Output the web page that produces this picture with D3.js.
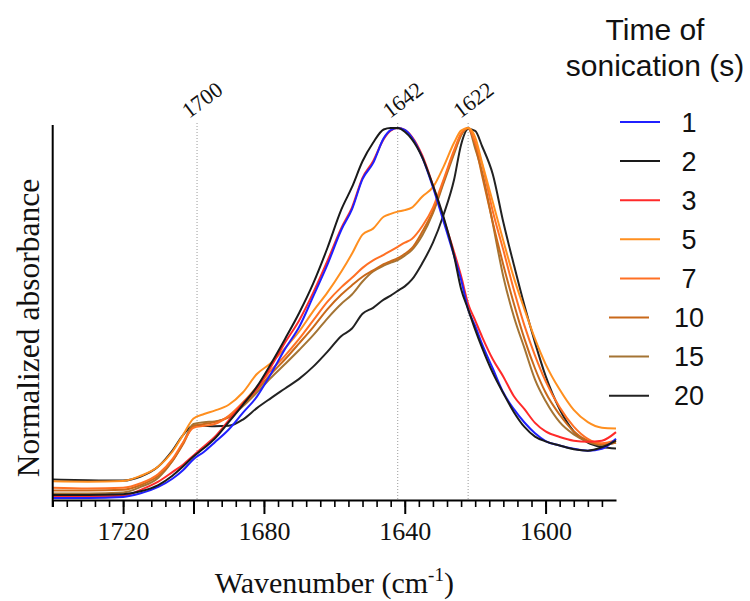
<!DOCTYPE html>
<html>
<head>
<meta charset="utf-8">
<script src="https://cdnjs.cloudflare.com/ajax/libs/d3/7.8.5/d3.min.js"></script>
<style>
  body { margin: 0; background: #fff; }
  svg { display: block; }
</style>
</head>
<body>
<div id="chart"></div>
<script>
// Wavenumbers (cm-1) at which the spectra were read
var wavenumbers = [1740, 1730, 1720, 1715, 1710, 1706, 1703, 1700, 1697, 1694, 1690, 1686, 1682, 1678, 1674, 1670, 1666, 1662, 1658, 1655, 1652, 1649, 1646, 1644, 1642, 1640, 1638, 1635, 1632, 1629, 1626, 1624, 1622, 1620, 1618, 1615, 1612, 1609, 1606, 1603, 1600, 1596, 1592, 1588, 1584, 1580];

// Normalized absorbance for each sonication time
var s1  = [0.000, 0.000, 0.003, 0.013, 0.030, 0.052, 0.075, 0.105, 0.125, 0.150, 0.185, 0.230, 0.274, 0.336, 0.403, 0.462, 0.545, 0.630, 0.725, 0.780, 0.862, 0.905, 0.972, 0.994, 1.000, 0.995, 0.975, 0.920, 0.840, 0.748, 0.655, 0.590, 0.510, 0.465, 0.415, 0.350, 0.285, 0.240, 0.204, 0.175, 0.154, 0.142, 0.133, 0.128, 0.133, 0.160];
var s2  = [0.008, 0.008, 0.010, 0.018, 0.035, 0.060, 0.085, 0.112, 0.135, 0.160, 0.205, 0.252, 0.301, 0.363, 0.430, 0.500, 0.580, 0.675, 0.780, 0.840, 0.910, 0.960, 0.996, 1.000, 1.000, 0.990, 0.970, 0.920, 0.845, 0.760, 0.655, 0.565, 0.510, 0.455, 0.405, 0.338, 0.283, 0.232, 0.192, 0.166, 0.153, 0.142, 0.132, 0.128, 0.137, 0.155];
var s3  = [0.004, 0.004, 0.006, 0.022, 0.044, 0.070, 0.090, 0.115, 0.140, 0.165, 0.210, 0.255, 0.296, 0.355, 0.420, 0.480, 0.555, 0.640, 0.730, 0.785, 0.865, 0.910, 0.970, 0.993, 1.000, 0.995, 0.977, 0.925, 0.845, 0.755, 0.665, 0.600, 0.525, 0.480, 0.435, 0.375, 0.328, 0.275, 0.240, 0.203, 0.180, 0.165, 0.155, 0.152, 0.155, 0.178];
var s5  = [0.045, 0.044, 0.046, 0.060, 0.085, 0.125, 0.170, 0.215, 0.227, 0.236, 0.252, 0.285, 0.335, 0.365, 0.405, 0.450, 0.505, 0.555, 0.612, 0.660, 0.712, 0.728, 0.760, 0.768, 0.774, 0.778, 0.785, 0.815, 0.840, 0.895, 0.960, 0.993, 1.000, 0.975, 0.905, 0.800, 0.695, 0.595, 0.510, 0.430, 0.362, 0.293, 0.238, 0.205, 0.190, 0.188];
var s7  = [0.028, 0.026, 0.028, 0.040, 0.065, 0.105, 0.150, 0.190, 0.195, 0.200, 0.222, 0.258, 0.300, 0.345, 0.385, 0.430, 0.480, 0.530, 0.570, 0.595, 0.622, 0.642, 0.657, 0.668, 0.679, 0.690, 0.700, 0.735, 0.785, 0.860, 0.940, 0.985, 1.000, 0.962, 0.900, 0.775, 0.670, 0.562, 0.466, 0.385, 0.316, 0.245, 0.193, 0.160, 0.148, 0.157];
var s10 = [0.020, 0.020, 0.022, 0.035, 0.060, 0.100, 0.145, 0.195, 0.200, 0.205, 0.220, 0.252, 0.292, 0.335, 0.375, 0.418, 0.462, 0.510, 0.550, 0.575, 0.598, 0.615, 0.632, 0.640, 0.648, 0.660, 0.675, 0.720, 0.775, 0.855, 0.935, 0.982, 1.000, 0.955, 0.870, 0.745, 0.630, 0.525, 0.430, 0.350, 0.285, 0.225, 0.180, 0.155, 0.145, 0.150];
var s15 = [0.012, 0.012, 0.015, 0.030, 0.055, 0.100, 0.148, 0.200, 0.205, 0.207, 0.218, 0.248, 0.285, 0.325, 0.362, 0.400, 0.440, 0.485, 0.525, 0.550, 0.585, 0.612, 0.628, 0.636, 0.643, 0.655, 0.670, 0.710, 0.770, 0.850, 0.930, 0.980, 1.000, 0.945, 0.880, 0.742, 0.598, 0.490, 0.405, 0.320, 0.262, 0.205, 0.172, 0.152, 0.143, 0.150];
var s20 = [0.050, 0.048, 0.047, 0.058, 0.085, 0.128, 0.170, 0.196, 0.195, 0.194, 0.195, 0.212, 0.243, 0.270, 0.296, 0.322, 0.355, 0.395, 0.438, 0.458, 0.498, 0.514, 0.536, 0.547, 0.560, 0.572, 0.590, 0.635, 0.690, 0.765, 0.860, 0.955, 0.997, 0.992, 0.950, 0.875, 0.745, 0.630, 0.520, 0.420, 0.330, 0.240, 0.180, 0.150, 0.138, 0.134];

var seriesLabels = ['1', '2', '3', '5', '7', '10', '15', '20'];
var seriesValues = [s1, s2, s3, s5, s7, s10, s15, s20];
var seriesColors = ['#2020ff', '#1a1a1a', '#ff2a2a', '#ff8f1f', '#ff7024', '#c9691a', '#a47434', '#222222'];
// drawing order (index into the arrays above)
var drawOrder = [7, 6, 5, 4, 3, 2, 0, 1];

// Axis ticks and marker lines
var xLabelTicks = [1720, 1680, 1640, 1600];
var xLongTicks = [1720, 1700, 1680, 1640, 1600];
var markerPositions = [1699, 1642, 1622];
var markerLabels = ['1700', '1642', '1622'];

// Build display area
var width = 750;
var height = 601;
var plotLeft = 52.7, plotRight = 616, plotTop = 125, axisY = 500;
var serif = "'Liberation Serif', 'Times New Roman', Times, serif";
var sans = "'Liberation Sans', Arial, Helvetica, sans-serif";

var svg = d3.select('#chart').append('svg')
  .attr('width', width)
  .attr('height', height);

var x = d3.scaleLinear().domain([1740, 1580]).range([plotLeft, plotRight]);
var y = d3.scaleLinear().domain([0, 1]).range([498, 128]);

// Dotted marker lines
svg.append('g').selectAll('line')
  .data(markerPositions)
  .enter().append('line')
  .attr('x1', function(d) { return x(d); })
  .attr('x2', function(d) { return x(d); })
  .attr('y1', 123)
  .attr('y2', axisY)
  .attr('stroke', '#9a9a9a')
  .attr('stroke-width', 1)
  .attr('stroke-dasharray', '1,2');

svg.append('g').selectAll('text')
  .data(markerPositions)
  .enter().append('text')
  .attr('transform', function(d) { return 'translate(' + (x(d) - 8) + ',119) rotate(-37)'; })
  .attr('font-family', serif)
  .attr('font-size', 22)
  .attr('fill', '#111')
  .text(function(d, i) { return markerLabels[i]; });

// Spectra
var line = d3.line()
  .x(function(d) { return x(d[0]); })
  .y(function(d) { return y(d[1]); })
  .curve(d3.curveMonotoneX);

svg.append('g').selectAll('path')
  .data(drawOrder)
  .enter().append('path')
  .attr('fill', 'none')
  .attr('stroke', function(i) { return seriesColors[i]; })
  .attr('stroke-width', 2)
  .attr('stroke-linejoin', 'round')
  .attr('d', function(i) {
    return line(wavenumbers.map(function(w, k) { return [w, seriesValues[i][k]]; }));
  });

// X axis: minor ticks every 4 cm-1, long ticks with labels
var minorTicks = d3.range(1740, 1583, -4);
var gMinor = svg.append('g')
  .attr('transform', 'translate(0,' + axisY + ')')
  .call(d3.axisBottom(x).tickValues(minorTicks).tickSize(7).tickSizeOuter(0).tickFormat(''));
gMinor.select('.domain').attr('stroke', '#000').attr('stroke-width', 2);
gMinor.selectAll('.tick line').attr('stroke', '#000').attr('stroke-width', 1.6);

var gMajor = svg.append('g')
  .attr('transform', 'translate(0,' + axisY + ')')
  .call(d3.axisBottom(x).tickValues(xLongTicks).tickSize(14).tickSizeOuter(0)
    .tickFormat(function(d) { return xLabelTicks.indexOf(d) >= 0 ? d : ''; }));
gMajor.select('.domain').remove();
gMajor.selectAll('.tick line').attr('stroke', '#000').attr('stroke-width', 2);
gMajor.selectAll('.tick text')
  .attr('font-family', serif)
  .attr('font-size', 26)
  .attr('fill', '#111')
  .attr('y', 22)
  .attr('dy', '0.71em');

// Y axis line (no ticks)
svg.append('line')
  .attr('x1', plotLeft).attr('x2', plotLeft)
  .attr('y1', plotTop).attr('y2', axisY + 7)
  .attr('stroke', '#000')
  .attr('stroke-width', 2);

// Axis titles
var xt = svg.append('text')
  .attr('x', (plotLeft + plotRight) / 2)
  .attr('y', 593)
  .attr('text-anchor', 'middle')
  .attr('font-family', serif)
  .attr('font-size', 30)
  .attr('fill', '#111');
xt.append('tspan').text('Wavenumber (cm');
xt.append('tspan').attr('font-size', 19).attr('dy', -12).text('-1');
xt.append('tspan').attr('dy', 12).text(')');

svg.append('text')
  .attr('transform', 'translate(39,328) rotate(-90)')
  .attr('text-anchor', 'middle')
  .attr('font-family', serif)
  .attr('font-size', 31.5)
  .attr('fill', '#111')
  .text('Normalized absorbance');

// Legend
svg.append('text')
  .attr('x', 655).attr('y', 40)
  .attr('text-anchor', 'middle')
  .attr('font-family', sans)
  .attr('font-size', 30)
  .attr('fill', '#111')
  .text('Time of');
svg.append('text')
  .attr('x', 655).attr('y', 76)
  .attr('text-anchor', 'middle')
  .attr('font-family', sans)
  .attr('font-size', 30)
  .attr('fill', '#111')
  .text('sonication (s)');

var legendTop = 122, legendStep = 39.1;
var legend = svg.append('g').selectAll('g')
  .data(seriesLabels)
  .enter().append('g')
  .attr('transform', function(d, i) { return 'translate(0,' + (legendTop + i * legendStep) + ')'; });
legend.append('line')
  .attr('x1', function(d) { return d.length > 1 ? 609 : 620; })
  .attr('x2', function(d) { return d.length > 1 ? 649 : 660; })
  .attr('stroke', function(d, i) { return seriesColors[i]; })
  .attr('stroke-width', 2);
legend.append('text')
  .attr('x', 689)
  .attr('dy', '0.36em')
  .attr('text-anchor', 'middle')
  .attr('font-family', sans)
  .attr('font-size', 27)
  .attr('fill', '#111')
  .text(function(d) { return d; });
</script>
</body>
</html>
